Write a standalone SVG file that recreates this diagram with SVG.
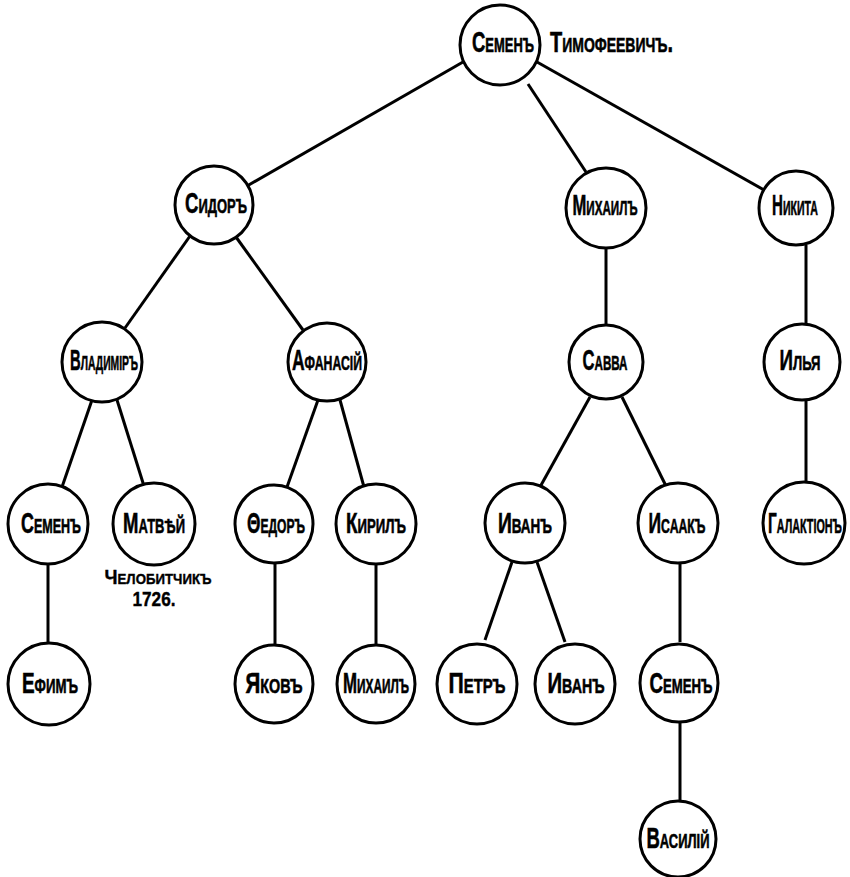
<svg xmlns="http://www.w3.org/2000/svg" width="850" height="877" viewBox="0 0 850 877">
<style>
.e{stroke:#000;stroke-width:3;fill:none;stroke-linecap:butt}
.c{fill:#fff;stroke:#000;stroke-width:3}
.t{font-family:"Liberation Sans","DejaVu Sans",sans-serif;font-weight:bold;font-size:30px;font-variant:small-caps;fill:#000;stroke:#000;stroke-width:0.6;text-anchor:middle}
.n{font-family:"Liberation Sans","DejaVu Sans",sans-serif;font-weight:bold;font-size:21px;font-variant:small-caps;fill:#000;stroke:#000;stroke-width:0.4;text-anchor:middle}
</style>
<rect width="850" height="877" fill="#fff"/>
<g id="connectors">
<line class="e" x1="463" y1="62" x2="247" y2="186"/>
<line class="e" x1="528" y1="84" x2="586" y2="172"/>
<line class="e" x1="537" y1="62" x2="764" y2="190"/>
<line class="e" x1="190" y1="236" x2="125" y2="328"/>
<line class="e" x1="236" y1="237" x2="303" y2="330"/>
<line class="e" x1="606" y1="248" x2="606" y2="325"/>
<line class="e" x1="806" y1="245" x2="806" y2="325"/>
<line class="e" x1="92" y1="400" x2="62" y2="487"/>
<line class="e" x1="117" y1="400" x2="144" y2="486"/>
<line class="e" x1="318" y1="400" x2="287" y2="487"/>
<line class="e" x1="340" y1="400" x2="364" y2="487"/>
<line class="e" x1="590" y1="397" x2="540" y2="487"/>
<line class="e" x1="622" y1="397" x2="666" y2="486"/>
<line class="e" x1="806" y1="400" x2="806" y2="485"/>
<line class="e" x1="48" y1="564" x2="48" y2="644"/>
<line class="e" x1="275" y1="564" x2="275" y2="644"/>
<line class="e" x1="376" y1="564" x2="376" y2="645"/>
<line class="e" x1="512" y1="562" x2="485" y2="640"/>
<line class="e" x1="537" y1="562" x2="565" y2="642"/>
<line class="e" x1="680" y1="563" x2="680" y2="642"/>
<line class="e" x1="680" y1="722" x2="680" y2="801"/>
</g>
<g id="n-root"><circle class="c" cx="500" cy="45" r="40"/><text class="t" x="503" y="52" textLength="62" lengthAdjust="spacingAndGlyphs">Семенъ</text><text class="t" x="550" y="52" style="text-anchor:start" textLength="123" lengthAdjust="spacingAndGlyphs">Тимофеевичъ.</text></g>
<g id="n-sidor"><circle class="c" cx="214" cy="205" r="39"/><text class="t" x="216" y="213" textLength="62" lengthAdjust="spacingAndGlyphs">Сидоръ</text></g>
<g id="n-mikhail1"><circle class="c" cx="606" cy="208" r="40"/><text class="t" x="605" y="215" textLength="65" lengthAdjust="spacingAndGlyphs">Михаилъ</text></g>
<g id="n-nikita"><circle class="c" cx="796" cy="208" r="37"/><text class="t" x="795" y="215" textLength="46" lengthAdjust="spacingAndGlyphs">Никита</text></g>
<g id="n-vladimir"><circle class="c" cx="102" cy="362" r="40"/><text class="t" x="104" y="370" textLength="68" lengthAdjust="spacingAndGlyphs">Владиміръ</text></g>
<g id="n-afanasij"><circle class="c" cx="327" cy="362" r="39"/><text class="t" x="327" y="370" textLength="70" lengthAdjust="spacingAndGlyphs">Афанасій</text></g>
<g id="n-savva"><circle class="c" cx="606" cy="362" r="37"/><text class="t" x="605" y="370" textLength="45" lengthAdjust="spacingAndGlyphs">Савва</text></g>
<g id="n-ilya"><circle class="c" cx="802" cy="362" r="38"/><text class="t" x="800" y="370" textLength="41" lengthAdjust="spacingAndGlyphs">Илья</text></g>
<g id="n-semen2"><circle class="c" cx="48" cy="524" r="40"/><text class="t" x="51" y="533" textLength="60" lengthAdjust="spacingAndGlyphs">Семенъ</text></g>
<g id="n-matvej"><circle class="c" cx="154" cy="524" r="41"/><text class="t" x="154" y="533" textLength="62" lengthAdjust="spacingAndGlyphs">Матвѣй</text><text class="n" x="158" y="584" textLength="107" lengthAdjust="spacingAndGlyphs">Челобитчикъ</text><text class="n" x="154" y="606" textLength="43" lengthAdjust="spacingAndGlyphs">1726.</text></g>
<g id="n-fedor"><circle class="c" cx="274" cy="524" r="39"/><text class="t" x="276" y="533" textLength="58" lengthAdjust="spacingAndGlyphs">Θедоръ</text></g>
<g id="n-kiril"><circle class="c" cx="376" cy="524" r="40"/><text class="t" x="376" y="533" textLength="60" lengthAdjust="spacingAndGlyphs">Кирилъ</text></g>
<g id="n-ivan1"><circle class="c" cx="525" cy="523" r="40"/><text class="t" x="525" y="533" textLength="54" lengthAdjust="spacingAndGlyphs">Иванъ</text></g>
<g id="n-isaak"><circle class="c" cx="678" cy="523" r="40"/><text class="t" x="677" y="533" textLength="57" lengthAdjust="spacingAndGlyphs">Исаакъ</text></g>
<g id="n-galaktion"><circle class="c" cx="804" cy="523" r="41"/><text class="t" x="805" y="533" textLength="74" lengthAdjust="spacingAndGlyphs">Галактіонъ</text></g>
<g id="n-efim"><circle class="c" cx="49" cy="684" r="41"/><text class="t" x="50" y="693" textLength="56" lengthAdjust="spacingAndGlyphs">Ефимъ</text></g>
<g id="n-yakov"><circle class="c" cx="274" cy="684" r="39"/><text class="t" x="274" y="693" textLength="57" lengthAdjust="spacingAndGlyphs">Яковъ</text></g>
<g id="n-mikhail2"><circle class="c" cx="376" cy="684" r="39"/><text class="t" x="376" y="693" textLength="66" lengthAdjust="spacingAndGlyphs">Михаилъ</text></g>
<g id="n-petr"><circle class="c" cx="477" cy="684" r="40"/><text class="t" x="477" y="693" textLength="57" lengthAdjust="spacingAndGlyphs">Петръ</text></g>
<g id="n-ivan2"><circle class="c" cx="575" cy="684" r="40"/><text class="t" x="576" y="693" textLength="57" lengthAdjust="spacingAndGlyphs">Иванъ</text></g>
<g id="n-semen3"><circle class="c" cx="679" cy="683" r="39"/><text class="t" x="681" y="693" textLength="63" lengthAdjust="spacingAndGlyphs">Семенъ</text></g>
<g id="n-vasilij"><circle class="c" cx="678" cy="839" r="38"/><text class="t" x="678" y="848" textLength="63" lengthAdjust="spacingAndGlyphs">Василій</text></g>
</svg>
